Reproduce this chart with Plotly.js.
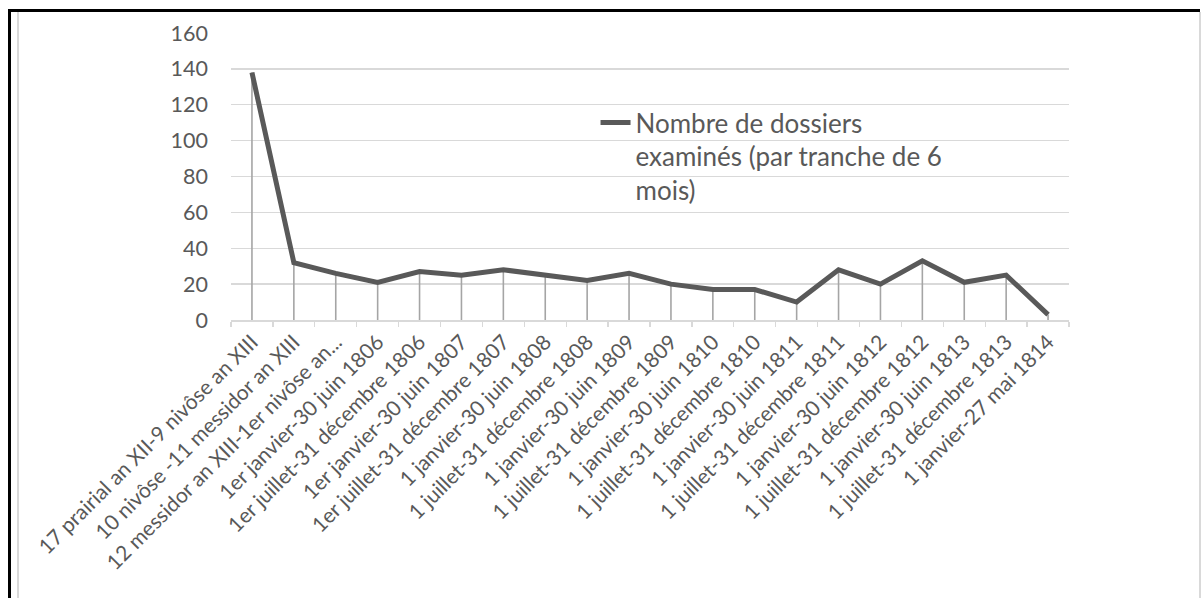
<!DOCTYPE html>
<html>
<head>
<meta charset="utf-8">
<script src="https://cdn.plot.ly/plotly-3.0.1.min.js"></script>
<style>
  html, body { margin: 0; padding: 0; background: #ffffff; }
  #wrap { position: relative; width: 1202px; height: 598px; overflow: hidden; }
  #chart { position: absolute; left: 0; top: 0; width: 1202px; height: 598px; }
  .deco { position: absolute; pointer-events: none; }
</style>
</head>
<body>
<div id="wrap">
  <div id="chart"></div>
  <div class="deco" style="left:8px; top:9px; width:1192px; height:3px; background:#000;"></div>
  <div class="deco" style="left:8px; top:9px; width:3px; height:589px; background:#000;"></div>
  <div class="deco" style="left:17px; top:12px; width:2px; height:586px; background:#d9d9d9;"></div>
  <div class="deco" style="left:1199px; top:12px; width:2px; height:586px; background:#d9d9d9;"></div>
</div>
<script>
const categories = [
  "17 prairial an XII-9 nivôse an XIII",
  "10 nivôse -11 messidor an XIII",
  "12 messidor an XIII-1er nivôse an...",
  "1er janvier-30 juin 1806",
  "1er juillet-31 décembre 1806",
  "1er janvier-30 juin 1807",
  "1er juillet-31 décembre 1807",
  "1 janvier-30 juin 1808",
  "1 juillet-31 décembre 1808",
  "1 janvier-30 juin 1809",
  "1 juillet-31 décembre 1809",
  "1 janvier-30 juin 1810",
  "1 juillet-31 décembre 1810",
  "1 janvier-30 juin 1811",
  "1 juillet-31 décembre 1811",
  "1 janvier-30 juin 1812",
  "1 juillet-31 décembre 1812",
  "1 janvier-30 juin 1813",
  "1 juillet-31 décembre 1813",
  "1 janvier-27 mai 1814"
];
const dossiers = [138, 32, 26, 21, 27, 25, 28, 25, 22, 26, 20, 17, 17, 10, 28, 20, 33, 21, 25, 3];
const seriesName = "Nombre de dossiers<br>examinés (par tranche de 6<br>mois)";
const yTicks = [0, 20, 40, 60, 80, 100, 120, 140, 160];

const dropLines = {
  x: categories,
  y: dossiers,
  type: "scatter",
  mode: "markers",
  marker: { size: 1, color: "rgba(0,0,0,0)" },
  error_y: {
    type: "data",
    symmetric: false,
    array: dossiers.map(() => 0),
    arrayminus: dossiers,
    width: 0,
    thickness: 1.6,
    color: "#a5a5a5"
  },
  showlegend: false,
  hoverinfo: "skip"
};

const mainLine = {
  x: categories,
  y: dossiers,
  type: "scatter",
  mode: "lines",
  name: seriesName,
  line: { color: "#595959", width: 5 },
  showlegend: true
};

const layout = {
  width: 1202,
  height: 598,
  margin: { l: 231, r: 133, t: 33, b: 278 },
  paper_bgcolor: "#ffffff",
  plot_bgcolor: "#ffffff",
  font: { family: "Lato, 'Open Sans', sans-serif", color: "#595959", size: 21 },
  showlegend: true,
  legend: {
    x: 0.435,
    xanchor: "left",
    y: 0.77,
    yanchor: "top",
    valign: "top",
    bgcolor: "rgba(0,0,0,0)",
    font: { family: "Lato, 'Open Sans', sans-serif", size: 26, color: "#595959" },
    tracegroupgap: 0
  },
  xaxis: {
    type: "category",
    range: [-0.5, categories.length - 0.5],
    tickangle: -45,
    tickson: "boundaries",
    ticks: "outside",
    ticklen: 5,
    tickwidth: 1.3,
    tickcolor: "#d9d9d9",
    showgrid: false,
    showline: true,
    linecolor: "#d9d9d9",
    linewidth: 1.5,
    tickfont: { family: "Lato, 'Open Sans', sans-serif", size: 21, color: "#595959" },
    automargin: false,
    fixedrange: true
  },
  yaxis: {
    range: [0, 160],
    tickvals: yTicks,
    ticktext: yTicks.map(String),
    showgrid: true,
    gridcolor: "#d9d9d9",
    gridwidth: 1.4,
    zeroline: false,
    showline: false,
    ticks: "",
    ticklabelstandoff: 22,
    tickfont: { family: "Lato, 'Open Sans', sans-serif", size: 21.5, color: "#595959" },
    automargin: false,
    fixedrange: true
  },
  hovermode: false
};

Plotly.newPlot("chart", [dropLines, mainLine], layout, { displayModeBar: false, staticPlot: true });
</script>
</body>
</html>
